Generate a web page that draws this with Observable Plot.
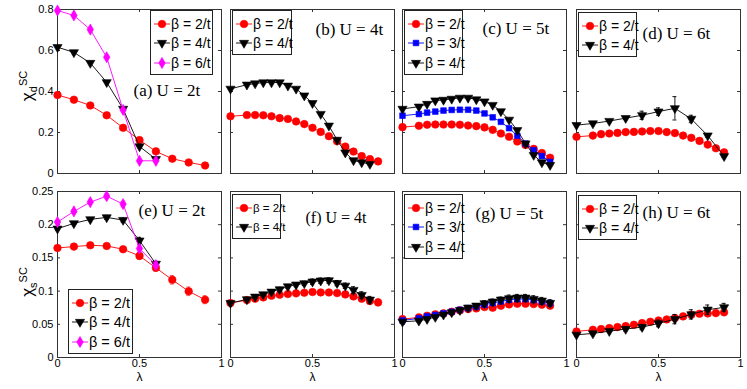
<!DOCTYPE html>
<html><head><meta charset="utf-8">
<script src="https://cdn.jsdelivr.net/npm/d3@7"></script>
<script src="https://cdn.jsdelivr.net/npm/@observablehq/plot@0.6"></script>
<style>
body{margin:0;background:#fff;}
#chart{position:relative;width:747px;height:389px;overflow:hidden;background:#fff;font-family:"Liberation Sans",Arial,sans-serif;}
.legend{position:absolute;background:#fff;border:1px solid #222;box-sizing:border-box;padding:3px 0 0 3px;white-space:nowrap;}
.legend .row{display:flex;align-items:center;}
.ylab{position:absolute;transform:translate(-50%,-50%) rotate(-90deg);white-space:nowrap;font-family:"Liberation Sans",Arial,sans-serif;color:#000;}
.ylab .chi{font-size:17px;}
.ylab sub,.ylab sup{font-size:11px;}
</style></head><body><div id="chart"></div>
<script>
// ---------- data ----------
const lam10 = [0,0.1,0.2,0.3,0.4,0.5,0.6,0.7,0.8,0.9];
const lam18 = [0,0.1,0.15,0.2,0.25,0.3,0.35,0.4,0.45,0.5,0.55,0.6,0.65,0.7,0.75,0.8,0.85,0.9];
const xTicks = [0,0.5,1];
const dTicks = [0,0.2,0.4,0.6,0.8];
const sTicks = [0,0.05,0.1,0.15,0.2,0.25];

// (a) U = 2t, chi_d
const a2 = [0.383,0.360,0.332,0.284,0.223,0.163,0.108,0.072,0.054,0.039];
const a4 = [0.616,0.591,0.539,0.445,0.315,0.132,0.070];
const a6 = [0.795,0.771,0.702,0.567,0.310,0.062,0.062];
// (b) U = 4t
const b2 = [0.279,0.285,0.285,0.284,0.279,0.270,0.266,0.254,0.241,0.223,0.203,0.182,0.157,0.131,0.107,0.085,0.070,0.059];
const b4 = [0.413,0.433,0.439,0.444,0.444,0.444,0.428,0.413,0.380,0.343,0.290,0.233,0.164,0.102,0.064,0.054,0.046];
// (c) U = 5t
const c2 = [0.226,0.233,0.238,0.239,0.239,0.239,0.238,0.234,0.231,0.225,0.213,0.195,0.179,0.156,0.139,0.120,0.100,0.077];
const c3 = [0.282,0.290,0.297,0.302,0.307,0.310,0.311,0.311,0.307,0.293,0.274,0.252,0.221,0.184,0.146,0.113,0.085,0.057];
const c4 = [0.315,0.326,0.339,0.356,0.359,0.364,0.369,0.369,0.361,0.351,0.334,0.303,0.262,0.211,0.146,0.090,0.054,0.041];
const c4e = [0,0.004,0.008,0.006,0.004,0.003,0,0,0,0,0,0,0,0,0,0,0,0];
// (d) U = 6t
const d2 = [0.179,0.185,0.192,0.195,0.198,0.202,0.203,0.205,0.207,0.207,0.202,0.197,0.185,0.174,0.159,0.141,0.123,0.103];
const d4 = [0.236,0.244,0.256,0.270,0.284,0.302,0.318,0.266,0.185,0.084];
const d4e = [0.003,0.003,0.004,0.006,0.020,0.018,0.057,0.018,0.008,0.005];
// (e) U = 2t, chi_s
const e2 = [0.165,0.167,0.169,0.168,0.163,0.153,0.135,0.117,0.0997,0.087];
const e2e = [0.002,0.002,0.002,0.002,0.003,0.005,0.005,0.0065,0.0065,0.006];
const e4 = [0.194,0.202,0.208,0.211,0.207,0.176,0.141];
const e4e = [0.002,0.002,0.002,0.003,0.003,0.005,0.004];
const e6 = [0.204,0.220,0.234,0.243,0.231,0.164,0.139];
const e6e = [0.002,0.002,0.003,0.004,0.004,0.005,0.004];
// (f) U = 4t
const f2 = [0.082,0.0865,0.0885,0.0905,0.093,0.0946,0.0956,0.0966,0.0976,0.0986,0.098,0.098,0.097,0.095,0.092,0.0885,0.085,0.083];
const f2e = [0.002,0.002,0.002,0.002,0.002,0.002,0.002,0.002,0.002,0.003,0.003,0.003,0.003,0.004,0.004,0.004,0.005,0.005];
const f4 = [0.082,0.0875,0.0915,0.095,0.099,0.1026,0.107,0.1097,0.1117,0.1142,0.1157,0.116,0.112,0.108,0.1016,0.094,0.087];
const f4e = [0.002,0.002,0.002,0.002,0.003,0.003,0.003,0.003,0.003,0.004,0.004,0.004,0.004,0.004,0.005,0.005,0.005];
// (g) U = 5t
const g2 = [0.0578,0.0604,0.0629,0.0649,0.0664,0.0689,0.0709,0.0729,0.0739,0.076,0.075,0.078,0.080,0.081,0.081,0.0805,0.0795,0.078];
const g2e = [0.001,0.001,0.001,0.001,0.002,0.002,0.002,0.002,0.003,0.003,0.003,0.003,0.004,0.004,0.004,0.004,0.004,0.004];
const g3 = [0.0558,0.0589,0.0619,0.0639,0.0664,0.0689,0.0719,0.0744,0.0765,0.0795,0.082,0.0845,0.087,0.088,0.088,0.0865,0.0845,0.082];
const g3e = [0.001,0.001,0.001,0.002,0.002,0.002,0.002,0.003,0.003,0.003,0.003,0.004,0.004,0.004,0.004,0.004,0.004,0.004];
const g4 = [0.0538,0.0553,0.0578,0.0609,0.0644,0.0679,0.0714,0.075,0.078,0.0815,0.084,0.087,0.089,0.090,0.090,0.088,0.0855,0.082];
const g4e = [0.002,0.002,0.002,0.002,0.002,0.003,0.003,0.003,0.003,0.004,0.004,0.004,0.005,0.005,0.005,0.005,0.005,0.005];
// (h) U = 6t
const h2 = [0.0392,0.0418,0.0428,0.0443,0.0458,0.0473,0.0493,0.0518,0.0538,0.0558,0.0573,0.0594,0.0619,0.0644,0.0659,0.0664,0.0669,0.068];
const h2e = [0.001,0.001,0.001,0.001,0.001,0.002,0.002,0.002,0.002,0.002,0.002,0.003,0.003,0.003,0.003,0.003,0.004,0.004];
const h4 = [0.0342,0.0362,0.0397,0.0428,0.0458,0.0513,0.0578,0.0649,0.072,0.0755];
const h4e = [0.002,0.002,0.002,0.003,0.004,0.005,0.007,0.007,0.007,0.006];

// ---------- styles ----------
const styles = {
  2: {color:"#ff0000", ecolor:"rgba(255,0,0,0.65)", symbol:"circle", r:3.8},
  3: {color:"#0000ff", ecolor:"rgba(0,0,255,0.6)", symbol:"square", r:3.2},
  4: {color:"#000000", ecolor:"#000000", symbol:"triangle", r:3.4, rotate:180},
  6: {color:"#ff00ff", ecolor:"rgba(255,0,255,0.7)", symbol:"diamond", r:3.4}
};
const d3sym = {circle:d3.symbolCircle, square:d3.symbolSquare, triangle:d3.symbolTriangle, diamond:d3.symbolDiamond};

const panels = [
  {title:"(a) U = 2t", row:0, col:0, tdx:76, tdy:81, tfs:17,
   series:[{beta:2,x:lam10,y:a2},{beta:4,x:lam10,y:a4},{beta:6,x:lam10,y:a6}],
   lg:{left:150, top:10, w:63, fs:14}},
  {title:"(b) U = 4t", row:0, col:1, tdx:85, tdy:20, tfs:17,
   series:[{beta:2,x:lam18,y:b2},{beta:4,x:lam18,y:b4}],
   lg:{left:232, top:10, w:60, fs:14}},
  {title:"(c) U = 5t", row:0, col:2, tdx:80, tdy:19, tfs:17,
   series:[{beta:2,x:lam18,y:c2},{beta:3,x:lam18,y:c3},{beta:4,x:lam18,y:c4,e:c4e}],
   lg:{left:404, top:10, w:59, fs:14}},
  {title:"(d) U = 6t", row:0, col:3, tdx:66, tdy:24, tfs:17,
   series:[{beta:2,x:lam18,y:d2},{beta:4,x:lam10,y:d4,e:d4e}],
   lg:{left:578, top:12, w:59, fs:14}},
  {title:"(e) U = 2t", row:1, col:0, tdx:81, tdy:19, tfs:17,
   series:[{beta:2,x:lam10,y:e2,e:e2e},{beta:4,x:lam10,y:e4,e:e4e},{beta:6,x:lam10,y:e6,e:e6e}],
   lg:{left:68, top:289, w:65, fs:14.5}},
  {title:"(f) U = 4t", row:1, col:1, tdx:75, tdy:26, tfs:16,
   series:[{beta:2,x:lam18,y:f2,e:f2e},{beta:4,x:lam18,y:f4,e:f4e}],
   lg:{left:232, top:194, w:49, fs:11.5}},
  {title:"(g) U = 5t", row:1, col:2, tdx:73, tdy:22, tfs:17,
   series:[{beta:2,x:lam18,y:g2,e:g2e},{beta:3,x:lam18,y:g3,e:g3e},{beta:4,x:lam18,y:g4,e:g4e}],
   lg:{left:404, top:194, w:59, fs:14}},
  {title:"(h) U = 6t", row:1, col:3, tdx:66, tdy:21, tfs:17,
   series:[{beta:2,x:lam18,y:h2,e:h2e},{beta:4,x:lam10,y:h4,e:h4e}],
   lg:{left:578, top:195, w:59, fs:14}}
];

// ---------- layout ----------
const chart = document.getElementById("chart");
const colX = [57, 230, 402, 576], W = 164;
const rowY = [9, 191], rowH = [164, 166];
const axisColor = "#333";

for (const p of panels) {
  const mL = p.col === 0 ? 57 : 8, mR = 8, mT = 8, mB = p.row === 1 ? 34 : 8;
  const H = rowH[p.row];
  const yTicks = p.row === 0 ? dTicks : sTicks;
  const yDom = p.row === 0 ? [0, 0.8] : [0, 0.25];
  const marks = [
    Plot.frame({stroke: axisColor}),
    Plot.tickY(yTicks, {y: d => d, insetRight: W - 3, stroke: axisColor}),
    Plot.tickY(yTicks, {y: d => d, insetLeft: W - 3, stroke: axisColor}),
    Plot.tickX(xTicks, {x: d => d, insetTop: H - 3, stroke: axisColor}),
    Plot.tickX(xTicks, {x: d => d, insetBottom: H - 3, stroke: axisColor})
  ];
  if (p.col === 0) marks.push(Plot.axisY({ticks: yTicks, tickSize: 0, tickPadding: 4, tickFormat: d => String(d), label: null}));
  if (p.row === 1) {
    marks.push(Plot.axisX({ticks: xTicks, tickSize: 0, tickPadding: 2, tickFormat: d => String(d), label: null}));
    marks.push(Plot.text(["λ"], {text: d => d, frameAnchor: "bottom", dy: 23, fontSize: 12, fill: "#000"}));
  }
  for (const s of p.series) {
    const st = styles[s.beta];
    const data = s.y.map((v, i) => ({x: s.x[i], y: v, e: s.e ? s.e[i] : 0}));
    marks.push(Plot.line(data, {x: "x", y: "y", stroke: st.color, strokeWidth: 0.9}));
    const eb = data.filter(d => d.e > 0);
    if (eb.length) {
      marks.push(Plot.ruleX(eb, {x: "x", y1: d => d.y - d.e, y2: d => d.y + d.e, stroke: st.ecolor, strokeWidth: 0.9}));
      marks.push(Plot.ruleY(eb, {y: d => d.y - d.e, x1: "x", x2: "x", insetLeft: -2, insetRight: -2, stroke: st.ecolor, strokeWidth: 0.9}));
      marks.push(Plot.ruleY(eb, {y: d => d.y + d.e, x1: "x", x2: "x", insetLeft: -2, insetRight: -2, stroke: st.ecolor, strokeWidth: 0.9}));
    }
    marks.push(Plot.dot(data, {x: "x", y: "y", symbol: st.symbol, r: st.r, fill: st.color, stroke: st.color, strokeWidth: 0.6, rotate: st.rotate || 0}));
  }
  marks.push(Plot.text([p.title], {text: d => d, frameAnchor: "top-left", dx: p.tdx, dy: p.tdy, textAnchor: "start", lineAnchor: "middle", fontFamily: "Liberation Serif, Times New Roman, serif", fontSize: p.tfs, fill: "#000"}));

  const opts = {
    width: W + mL + mR, height: H + mT + mB,
    marginLeft: mL, marginRight: mR, marginTop: mT, marginBottom: mB,
    x: {domain: [0, 1]}, y: {domain: yDom},
    style: {background: "transparent", fontFamily: "Liberation Sans, Arial, sans-serif", fontSize: "11px", color: "#000", overflow: "visible"},
    marks
  };
  if (p.col !== 0) opts.y.axis = null;
  if (p.row !== 1) opts.x.axis = null;
  const svg = Plot.plot(opts);
  svg.style.position = "absolute";
  svg.style.left = (colX[p.col] - mL) + "px";
  svg.style.top = (rowY[p.row] - mT) + "px";
  svg.style.maxWidth = "none";
  chart.appendChild(svg);
}

// legends
for (const p of panels) {
  const lg = p.lg, rowHgt = 19.5;
  const box = document.createElement("div");
  box.className = "legend";
  box.style.left = lg.left + "px";
  box.style.top = lg.top + "px";
  box.style.width = lg.w + "px";
  box.style.height = (p.series.length * rowHgt + 6) + "px";
  box.style.fontSize = lg.fs + "px";
  for (const s of p.series) {
    const st = styles[s.beta];
    const row = document.createElement("div");
    row.className = "row";
    row.style.height = rowHgt + "px";
    const sv = d3.create("svg").attr("width", 16).attr("height", 12).style("flex", "none");
    sv.append("line").attr("x1", 0).attr("x2", 16).attr("y1", 6).attr("y2", 6).attr("stroke", st.color).attr("stroke-width", 0.9);
    sv.append("path").attr("d", d3.symbol(d3sym[st.symbol], Math.PI * st.r * st.r)())
      .attr("transform", `translate(8,6) rotate(${st.rotate || 0})`).attr("fill", st.color).attr("stroke", st.color).attr("stroke-width", 0.6);
    row.appendChild(sv.node());
    const t = document.createElement("span");
    t.textContent = `β = ${s.beta}/t`;
    t.style.marginLeft = "1px";
    row.appendChild(t);
    box.appendChild(row);
  }
  chart.appendChild(box);
}

// y labels
function ylab(sub, cx, cy) {
  const d = document.createElement("div");
  d.className = "ylab";
  d.style.left = cx + "px";
  d.style.top = cy + "px";
  d.innerHTML = `<span class="chi">χ</span><sub>${sub}</sub><sup>SC</sup>`;
  chart.appendChild(d);
}
ylab("d", 28, 86);
ylab("s", 28, 282);
</script></body></html>
